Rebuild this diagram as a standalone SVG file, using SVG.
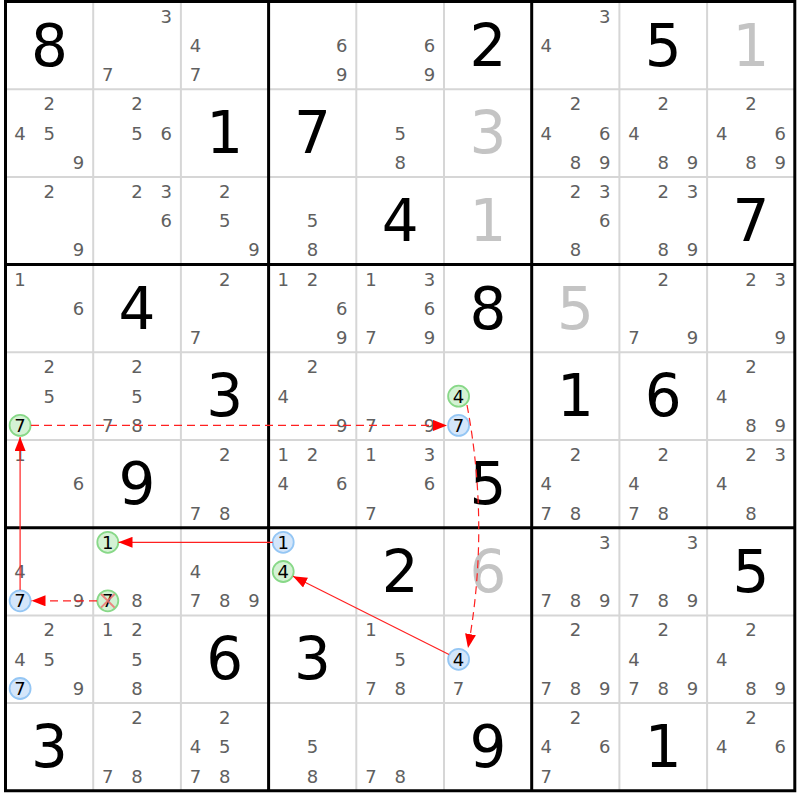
<svg xmlns="http://www.w3.org/2000/svg" width="800" height="800" viewBox="0 0 800 800">
<style>
text{font-family:"DejaVu Sans","Liberation Sans",sans-serif;text-anchor:middle}
.c{font-size:18px;fill:#606060}
.k{font-size:18px;fill:#000}
.g{font-size:58px;fill:#000}
.s{font-size:58px;fill:#c4c4c4}
.thin{stroke:#d6d6d6;stroke-width:2}
.thick{stroke:#000;stroke-width:3}
.gr{fill:#d4f2d4;stroke:#88d888;stroke-width:1.8}
.bl{fill:#d4e6fa;stroke:#94c6f4;stroke-width:1.8}
.a{fill:none;stroke:#ff2020;stroke-width:1.2}
.d{stroke-dasharray:8,5}
</style>
<defs>
<marker id="ah" markerUnits="userSpaceOnUse" markerWidth="15" markerHeight="11" refX="14" refY="5.5" orient="auto">
<path d="M0,0 L14,5.5 L0,11 z" fill="#ff0000"/>
</marker>
</defs>
<rect width="800" height="800" fill="#fff"/>
<g id="grid">
<path class="thin" d="M93.2,1.5V790.8M180.9,1.5V790.8M356.3,1.5V790.8M444,1.5V790.8M619.4,1.5V790.8M707.1,1.5V790.8M5.5,89.2H794.8M5.5,176.9H794.8M5.5,352.3H794.8M5.5,440H794.8M5.5,615.4H794.8M5.5,703.1H794.8"/>
<path class="thick" d="M5.5,1.5V790.8M268.6,1.5V790.8M531.7,1.5V790.8M794.8,1.5V790.8M4,1.5H796.3M4,264.6H796.3M4,527.7H796.3M4,790.8H796.3"/>
</g>
<g id="marks">
<circle class="gr" cx="20.1" cy="425.4" r="10.5"/>
<circle class="gr" cx="458.6" cy="396.2" r="10.5"/>
<circle class="bl" cx="458.6" cy="425.4" r="10.5"/>
<circle class="gr" cx="107.8" cy="542.3" r="10.5"/>
<circle class="gr" cx="107.8" cy="600.8" r="10.5"/>
<circle class="bl" cx="20.1" cy="600.8" r="10.5"/>
<circle class="bl" cx="283.2" cy="542.3" r="10.5"/>
<circle class="gr" cx="283.2" cy="571.5" r="10.5"/>
<circle class="bl" cx="458.6" cy="659.3" r="10.5"/>
<circle class="bl" cx="20.1" cy="688.5" r="10.5"/>
</g>
<!-- row 0 -->
<g id="r0c0" transform="translate(5.5,1.5)"><text class="g" x="43.85" y="64">8</text></g>
<g id="r0c1" transform="translate(93.2,1.5)"><text class="c" x="73.1" y="21.1">3</text><text class="c" x="14.6" y="79.6">7</text></g>
<g id="r0c2" transform="translate(180.9,1.5)"><text class="c" x="14.6" y="50.4">4</text><text class="c" x="14.6" y="79.6">7</text></g>
<g id="r0c3" transform="translate(268.6,1.5)"><text class="c" x="73.1" y="50.4">6</text><text class="c" x="73.1" y="79.6">9</text></g>
<g id="r0c4" transform="translate(356.3,1.5)"><text class="c" x="73.1" y="50.4">6</text><text class="c" x="73.1" y="79.6">9</text></g>
<g id="r0c5" transform="translate(444,1.5)"><text class="g" x="43.85" y="64">2</text></g>
<g id="r0c6" transform="translate(531.7,1.5)"><text class="c" x="73.1" y="21.1">3</text><text class="c" x="14.6" y="50.4">4</text></g>
<g id="r0c7" transform="translate(619.4,1.5)"><text class="g" x="43.85" y="64">5</text></g>
<g id="r0c8" transform="translate(707.1,1.5)"><text class="s" x="43.85" y="64">1</text></g>
<!-- row 1 -->
<g id="r1c0" transform="translate(5.5,89.2)"><text class="c" x="43.85" y="21.1">2</text><text class="c" x="14.6" y="50.4">4</text><text class="c" x="43.85" y="50.4">5</text><text class="c" x="73.1" y="79.6">9</text></g>
<g id="r1c1" transform="translate(93.2,89.2)"><text class="c" x="43.85" y="21.1">2</text><text class="c" x="43.85" y="50.4">5</text><text class="c" x="73.1" y="50.4">6</text></g>
<g id="r1c2" transform="translate(180.9,89.2)"><text class="g" x="43.85" y="64">1</text></g>
<g id="r1c3" transform="translate(268.6,89.2)"><text class="g" x="43.85" y="64">7</text></g>
<g id="r1c4" transform="translate(356.3,89.2)"><text class="c" x="43.85" y="50.4">5</text><text class="c" x="43.85" y="79.6">8</text></g>
<g id="r1c5" transform="translate(444,89.2)"><text class="s" x="43.85" y="64">3</text></g>
<g id="r1c6" transform="translate(531.7,89.2)"><text class="c" x="43.85" y="21.1">2</text><text class="c" x="14.6" y="50.4">4</text><text class="c" x="73.1" y="50.4">6</text><text class="c" x="43.85" y="79.6">8</text><text class="c" x="73.1" y="79.6">9</text></g>
<g id="r1c7" transform="translate(619.4,89.2)"><text class="c" x="43.85" y="21.1">2</text><text class="c" x="14.6" y="50.4">4</text><text class="c" x="43.85" y="79.6">8</text><text class="c" x="73.1" y="79.6">9</text></g>
<g id="r1c8" transform="translate(707.1,89.2)"><text class="c" x="43.85" y="21.1">2</text><text class="c" x="14.6" y="50.4">4</text><text class="c" x="73.1" y="50.4">6</text><text class="c" x="43.85" y="79.6">8</text><text class="c" x="73.1" y="79.6">9</text></g>
<!-- row 2 -->
<g id="r2c0" transform="translate(5.5,176.9)"><text class="c" x="43.85" y="21.1">2</text><text class="c" x="73.1" y="79.6">9</text></g>
<g id="r2c1" transform="translate(93.2,176.9)"><text class="c" x="43.85" y="21.1">2</text><text class="c" x="73.1" y="21.1">3</text><text class="c" x="73.1" y="50.4">6</text></g>
<g id="r2c2" transform="translate(180.9,176.9)"><text class="c" x="43.85" y="21.1">2</text><text class="c" x="43.85" y="50.4">5</text><text class="c" x="73.1" y="79.6">9</text></g>
<g id="r2c3" transform="translate(268.6,176.9)"><text class="c" x="43.85" y="50.4">5</text><text class="c" x="43.85" y="79.6">8</text></g>
<g id="r2c4" transform="translate(356.3,176.9)"><text class="g" x="43.85" y="64">4</text></g>
<g id="r2c5" transform="translate(444,176.9)"><text class="s" x="43.85" y="64">1</text></g>
<g id="r2c6" transform="translate(531.7,176.9)"><text class="c" x="43.85" y="21.1">2</text><text class="c" x="73.1" y="21.1">3</text><text class="c" x="73.1" y="50.4">6</text><text class="c" x="43.85" y="79.6">8</text></g>
<g id="r2c7" transform="translate(619.4,176.9)"><text class="c" x="43.85" y="21.1">2</text><text class="c" x="73.1" y="21.1">3</text><text class="c" x="43.85" y="79.6">8</text><text class="c" x="73.1" y="79.6">9</text></g>
<g id="r2c8" transform="translate(707.1,176.9)"><text class="g" x="43.85" y="64">7</text></g>
<!-- row 3 -->
<g id="r3c0" transform="translate(5.5,264.6)"><text class="c" x="14.6" y="21.1">1</text><text class="c" x="73.1" y="50.4">6</text></g>
<g id="r3c1" transform="translate(93.2,264.6)"><text class="g" x="43.85" y="64">4</text></g>
<g id="r3c2" transform="translate(180.9,264.6)"><text class="c" x="43.85" y="21.1">2</text><text class="c" x="14.6" y="79.6">7</text></g>
<g id="r3c3" transform="translate(268.6,264.6)"><text class="c" x="14.6" y="21.1">1</text><text class="c" x="43.85" y="21.1">2</text><text class="c" x="73.1" y="50.4">6</text><text class="c" x="73.1" y="79.6">9</text></g>
<g id="r3c4" transform="translate(356.3,264.6)"><text class="c" x="14.6" y="21.1">1</text><text class="c" x="73.1" y="21.1">3</text><text class="c" x="73.1" y="50.4">6</text><text class="c" x="14.6" y="79.6">7</text><text class="c" x="73.1" y="79.6">9</text></g>
<g id="r3c5" transform="translate(444,264.6)"><text class="g" x="43.85" y="64">8</text></g>
<g id="r3c6" transform="translate(531.7,264.6)"><text class="s" x="43.85" y="64">5</text></g>
<g id="r3c7" transform="translate(619.4,264.6)"><text class="c" x="43.85" y="21.1">2</text><text class="c" x="14.6" y="79.6">7</text><text class="c" x="73.1" y="79.6">9</text></g>
<g id="r3c8" transform="translate(707.1,264.6)"><text class="c" x="43.85" y="21.1">2</text><text class="c" x="73.1" y="21.1">3</text><text class="c" x="73.1" y="79.6">9</text></g>
<!-- row 4 -->
<g id="r4c0" transform="translate(5.5,352.3)"><text class="c" x="43.85" y="21.1">2</text><text class="c" x="43.85" y="50.4">5</text><text class="k" x="14.6" y="79.6">7</text></g>
<g id="r4c1" transform="translate(93.2,352.3)"><text class="c" x="43.85" y="21.1">2</text><text class="c" x="43.85" y="50.4">5</text><text class="c" x="14.6" y="79.6">7</text><text class="c" x="43.85" y="79.6">8</text></g>
<g id="r4c2" transform="translate(180.9,352.3)"><text class="g" x="43.85" y="64">3</text></g>
<g id="r4c3" transform="translate(268.6,352.3)"><text class="c" x="43.85" y="21.1">2</text><text class="c" x="14.6" y="50.4">4</text><text class="c" x="73.1" y="79.6">9</text></g>
<g id="r4c4" transform="translate(356.3,352.3)"><text class="c" x="14.6" y="79.6">7</text><text class="c" x="73.1" y="79.6">9</text></g>
<g id="r4c5" transform="translate(444,352.3)"><text class="k" x="14.6" y="50.4">4</text><text class="k" x="14.6" y="79.6">7</text></g>
<g id="r4c6" transform="translate(531.7,352.3)"><text class="g" x="43.85" y="64">1</text></g>
<g id="r4c7" transform="translate(619.4,352.3)"><text class="g" x="43.85" y="64">6</text></g>
<g id="r4c8" transform="translate(707.1,352.3)"><text class="c" x="43.85" y="21.1">2</text><text class="c" x="14.6" y="50.4">4</text><text class="c" x="43.85" y="79.6">8</text><text class="c" x="73.1" y="79.6">9</text></g>
<!-- row 5 -->
<g id="r5c0" transform="translate(5.5,440)"><text class="c" x="14.6" y="21.1">1</text><text class="c" x="73.1" y="50.4">6</text></g>
<g id="r5c1" transform="translate(93.2,440)"><text class="g" x="43.85" y="64">9</text></g>
<g id="r5c2" transform="translate(180.9,440)"><text class="c" x="43.85" y="21.1">2</text><text class="c" x="14.6" y="79.6">7</text><text class="c" x="43.85" y="79.6">8</text></g>
<g id="r5c3" transform="translate(268.6,440)"><text class="c" x="14.6" y="21.1">1</text><text class="c" x="43.85" y="21.1">2</text><text class="c" x="14.6" y="50.4">4</text><text class="c" x="73.1" y="50.4">6</text></g>
<g id="r5c4" transform="translate(356.3,440)"><text class="c" x="14.6" y="21.1">1</text><text class="c" x="73.1" y="21.1">3</text><text class="c" x="73.1" y="50.4">6</text><text class="c" x="14.6" y="79.6">7</text></g>
<g id="r5c5" transform="translate(444,440)"><text class="g" x="43.85" y="64">5</text></g>
<g id="r5c6" transform="translate(531.7,440)"><text class="c" x="43.85" y="21.1">2</text><text class="c" x="14.6" y="50.4">4</text><text class="c" x="14.6" y="79.6">7</text><text class="c" x="43.85" y="79.6">8</text></g>
<g id="r5c7" transform="translate(619.4,440)"><text class="c" x="43.85" y="21.1">2</text><text class="c" x="14.6" y="50.4">4</text><text class="c" x="14.6" y="79.6">7</text><text class="c" x="43.85" y="79.6">8</text></g>
<g id="r5c8" transform="translate(707.1,440)"><text class="c" x="43.85" y="21.1">2</text><text class="c" x="73.1" y="21.1">3</text><text class="c" x="14.6" y="50.4">4</text><text class="c" x="43.85" y="79.6">8</text></g>
<!-- row 6 -->
<g id="r6c0" transform="translate(5.5,527.7)"><text class="c" x="14.6" y="50.4">4</text><text class="k" x="14.6" y="79.6">7</text><text class="c" x="73.1" y="79.6">9</text></g>
<g id="r6c1" transform="translate(93.2,527.7)"><text class="k" x="14.6" y="21.1">1</text><text class="k" x="14.6" y="79.6">7</text><text class="c" x="43.85" y="79.6">8</text></g>
<g id="r6c2" transform="translate(180.9,527.7)"><text class="c" x="14.6" y="50.4">4</text><text class="c" x="14.6" y="79.6">7</text><text class="c" x="43.85" y="79.6">8</text><text class="c" x="73.1" y="79.6">9</text></g>
<g id="r6c3" transform="translate(268.6,527.7)"><text class="k" x="14.6" y="21.1">1</text><text class="k" x="14.6" y="50.4">4</text></g>
<g id="r6c4" transform="translate(356.3,527.7)"><text class="g" x="43.85" y="64">2</text></g>
<g id="r6c5" transform="translate(444,527.7)"><text class="s" x="43.85" y="64">6</text></g>
<g id="r6c6" transform="translate(531.7,527.7)"><text class="c" x="73.1" y="21.1">3</text><text class="c" x="14.6" y="79.6">7</text><text class="c" x="43.85" y="79.6">8</text><text class="c" x="73.1" y="79.6">9</text></g>
<g id="r6c7" transform="translate(619.4,527.7)"><text class="c" x="73.1" y="21.1">3</text><text class="c" x="14.6" y="79.6">7</text><text class="c" x="43.85" y="79.6">8</text><text class="c" x="73.1" y="79.6">9</text></g>
<g id="r6c8" transform="translate(707.1,527.7)"><text class="g" x="43.85" y="64">5</text></g>
<!-- row 7 -->
<g id="r7c0" transform="translate(5.5,615.4)"><text class="c" x="43.85" y="21.1">2</text><text class="c" x="14.6" y="50.4">4</text><text class="c" x="43.85" y="50.4">5</text><text class="k" x="14.6" y="79.6">7</text><text class="c" x="73.1" y="79.6">9</text></g>
<g id="r7c1" transform="translate(93.2,615.4)"><text class="c" x="14.6" y="21.1">1</text><text class="c" x="43.85" y="21.1">2</text><text class="c" x="43.85" y="50.4">5</text><text class="c" x="43.85" y="79.6">8</text></g>
<g id="r7c2" transform="translate(180.9,615.4)"><text class="g" x="43.85" y="64">6</text></g>
<g id="r7c3" transform="translate(268.6,615.4)"><text class="g" x="43.85" y="64">3</text></g>
<g id="r7c4" transform="translate(356.3,615.4)"><text class="c" x="14.6" y="21.1">1</text><text class="c" x="43.85" y="50.4">5</text><text class="c" x="14.6" y="79.6">7</text><text class="c" x="43.85" y="79.6">8</text></g>
<g id="r7c5" transform="translate(444,615.4)"><text class="k" x="14.6" y="50.4">4</text><text class="c" x="14.6" y="79.6">7</text></g>
<g id="r7c6" transform="translate(531.7,615.4)"><text class="c" x="43.85" y="21.1">2</text><text class="c" x="14.6" y="79.6">7</text><text class="c" x="43.85" y="79.6">8</text><text class="c" x="73.1" y="79.6">9</text></g>
<g id="r7c7" transform="translate(619.4,615.4)"><text class="c" x="43.85" y="21.1">2</text><text class="c" x="14.6" y="50.4">4</text><text class="c" x="14.6" y="79.6">7</text><text class="c" x="43.85" y="79.6">8</text><text class="c" x="73.1" y="79.6">9</text></g>
<g id="r7c8" transform="translate(707.1,615.4)"><text class="c" x="43.85" y="21.1">2</text><text class="c" x="14.6" y="50.4">4</text><text class="c" x="43.85" y="79.6">8</text><text class="c" x="73.1" y="79.6">9</text></g>
<!-- row 8 -->
<g id="r8c0" transform="translate(5.5,703.1)"><text class="g" x="43.85" y="64">3</text></g>
<g id="r8c1" transform="translate(93.2,703.1)"><text class="c" x="43.85" y="21.1">2</text><text class="c" x="14.6" y="79.6">7</text><text class="c" x="43.85" y="79.6">8</text></g>
<g id="r8c2" transform="translate(180.9,703.1)"><text class="c" x="43.85" y="21.1">2</text><text class="c" x="14.6" y="50.4">4</text><text class="c" x="43.85" y="50.4">5</text><text class="c" x="14.6" y="79.6">7</text><text class="c" x="43.85" y="79.6">8</text></g>
<g id="r8c3" transform="translate(268.6,703.1)"><text class="c" x="43.85" y="50.4">5</text><text class="c" x="43.85" y="79.6">8</text></g>
<g id="r8c4" transform="translate(356.3,703.1)"><text class="c" x="14.6" y="79.6">7</text><text class="c" x="43.85" y="79.6">8</text></g>
<g id="r8c5" transform="translate(444,703.1)"><text class="g" x="43.85" y="64">9</text></g>
<g id="r8c6" transform="translate(531.7,703.1)"><text class="c" x="43.85" y="21.1">2</text><text class="c" x="14.6" y="50.4">4</text><text class="c" x="73.1" y="50.4">6</text><text class="c" x="14.6" y="79.6">7</text></g>
<g id="r8c7" transform="translate(619.4,703.1)"><text class="g" x="43.85" y="64">1</text></g>
<g id="r8c8" transform="translate(707.1,703.1)"><text class="c" x="43.85" y="21.1">2</text><text class="c" x="14.6" y="50.4">4</text><text class="c" x="73.1" y="50.4">6</text></g>
<g id="connectors">
<path class="a" d="M20.1,590 L20.1,437" marker-end="url(#ah)"/>
<path class="a d" d="M31,425.4 L447,425.4" marker-end="url(#ah)"/>
<path class="a d" d="M467,405 Q490,527 468,648" marker-end="url(#ah)"/>
<path class="a" d="M449,654.5 L293,576.3" marker-end="url(#ah)"/>
<path class="a" d="M272.7,542.3 L118.5,542.3" marker-end="url(#ah)"/>
<path class="a d" d="M97,600.8 L31.5,600.8" marker-end="url(#ah)"/>
</g>
<g id="elim">
<path d="M101,594 L114.6,607.6 M114.6,594 L101,607.6" stroke="#f07070" stroke-width="2" stroke-opacity="0.85" fill="none"/>
</g>
</svg>
